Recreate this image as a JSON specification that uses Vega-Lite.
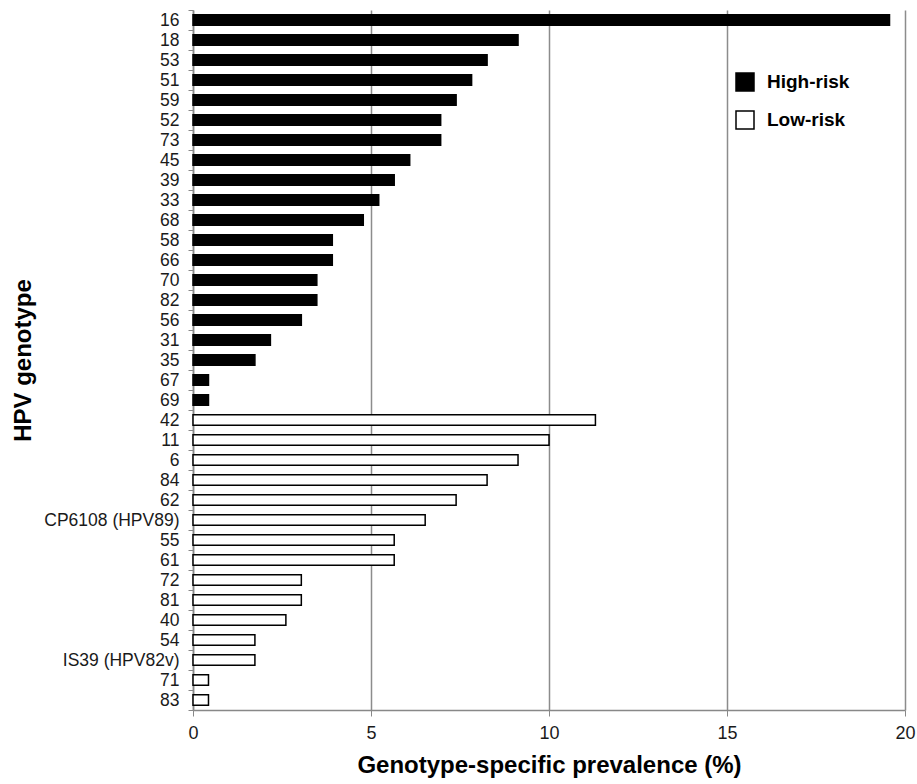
{
  "$schema": "https://vega.github.io/schema/vega-lite/v6.json",
  "autosize": {"type": "none"},
  "width": 712,
  "height": 700,
  "padding": {"left": 193, "top": 10, "right": 12, "bottom": 74},
  "background": "white",
  "config": {
    "view": {"stroke": null},
    "font": "Liberation Sans"
  },
  "data": {
    "values": [
      {"genotype": "16", "risk": "High-risk", "prevalence": 19.565},
      {"genotype": "18", "risk": "High-risk", "prevalence": 9.130},
      {"genotype": "53", "risk": "High-risk", "prevalence": 8.261},
      {"genotype": "51", "risk": "High-risk", "prevalence": 7.826},
      {"genotype": "59", "risk": "High-risk", "prevalence": 7.391},
      {"genotype": "52", "risk": "High-risk", "prevalence": 6.957},
      {"genotype": "73", "risk": "High-risk", "prevalence": 6.957},
      {"genotype": "45", "risk": "High-risk", "prevalence": 6.087},
      {"genotype": "39", "risk": "High-risk", "prevalence": 5.652},
      {"genotype": "33", "risk": "High-risk", "prevalence": 5.217},
      {"genotype": "68", "risk": "High-risk", "prevalence": 4.783},
      {"genotype": "58", "risk": "High-risk", "prevalence": 3.913},
      {"genotype": "66", "risk": "High-risk", "prevalence": 3.913},
      {"genotype": "70", "risk": "High-risk", "prevalence": 3.478},
      {"genotype": "82", "risk": "High-risk", "prevalence": 3.478},
      {"genotype": "56", "risk": "High-risk", "prevalence": 3.043},
      {"genotype": "31", "risk": "High-risk", "prevalence": 2.174},
      {"genotype": "35", "risk": "High-risk", "prevalence": 1.739},
      {"genotype": "67", "risk": "High-risk", "prevalence": 0.435},
      {"genotype": "69", "risk": "High-risk", "prevalence": 0.435},
      {"genotype": "42", "risk": "Low-risk", "prevalence": 11.304},
      {"genotype": "11", "risk": "Low-risk", "prevalence": 10.0},
      {"genotype": "6", "risk": "Low-risk", "prevalence": 9.130},
      {"genotype": "84", "risk": "Low-risk", "prevalence": 8.261},
      {"genotype": "62", "risk": "Low-risk", "prevalence": 7.391},
      {"genotype": "CP6108 (HPV89)", "risk": "Low-risk", "prevalence": 6.522},
      {"genotype": "55", "risk": "Low-risk", "prevalence": 5.652},
      {"genotype": "61", "risk": "Low-risk", "prevalence": 5.652},
      {"genotype": "72", "risk": "Low-risk", "prevalence": 3.043},
      {"genotype": "81", "risk": "Low-risk", "prevalence": 3.043},
      {"genotype": "40", "risk": "Low-risk", "prevalence": 2.609},
      {"genotype": "54", "risk": "Low-risk", "prevalence": 1.739},
      {"genotype": "IS39 (HPV82v)", "risk": "Low-risk", "prevalence": 1.739},
      {"genotype": "71", "risk": "Low-risk", "prevalence": 0.435},
      {"genotype": "83", "risk": "Low-risk", "prevalence": 0.435}
    ]
  },
  "mark": {
    "type": "bar",
    "height": {"band": 0.52},
    "stroke": "#000000",
    "strokeWidth": 1.5,
    "opacity": 1,
    "fillOpacity": 1
  },
  "encoding": {
    "y": {
      "field": "genotype",
      "type": "nominal",
      "sort": null,
      "scale": {"paddingInner": 0, "paddingOuter": 0},
      "axis": {
        "title": "HPV genotype",
        "titleFont": "Liberation Sans",
        "titleFontSize": 24,
        "titleFontWeight": "bold",
        "titleColor": "#000000",
        "titlePadding": 8,
        "labelFont": "Liberation Sans",
        "labelFontSize": 17.5,
        "labelColor": "#1a1a1a",
        "labelPadding": 9,
        "tickBand": "extent",
        "tickSize": 5,
        "tickColor": "#888888",
        "domainColor": "#888888",
        "domainWidth": 1.5,
        "grid": false
      }
    },
    "x": {
      "field": "prevalence",
      "type": "quantitative",
      "scale": {"domain": [0, 20], "nice": false},
      "axis": {
        "title": "Genotype-specific prevalence (%)",
        "titleFont": "Liberation Sans",
        "titleFontSize": 24,
        "titleFontWeight": "bold",
        "titleColor": "#000000",
        "titlePadding": 11,
        "values": [0, 5, 10, 15, 20],
        "labelFont": "Liberation Sans",
        "labelFontSize": 18,
        "labelColor": "#1a1a1a",
        "labelPadding": 8,
        "labelFlush": false,
        "tickSize": 6,
        "tickColor": "#888888",
        "domainColor": "#888888",
        "domainWidth": 1.5,
        "grid": true,
        "gridColor": "#8c8c8c",
        "gridWidth": 1.5,
        "gridOpacity": 1
      }
    },
    "fill": {
      "field": "risk",
      "type": "nominal",
      "scale": {"domain": ["High-risk", "Low-risk"], "range": ["#000000", "#ffffff"]},
      "legend": {
        "title": null,
        "orient": "none",
        "legendX": 542,
        "legendY": 62,
        "padding": 0,
        "symbolType": "square",
        "symbolSize": 324,
        "symbolStrokeColor": "#000000",
        "symbolStrokeWidth": 1.5,
        "symbolOpacity": 1,
        "labelFont": "Liberation Sans",
        "labelFontSize": 19,
        "labelFontWeight": "bold",
        "labelColor": "#000000",
        "labelOffset": 12,
        "rowPadding": 14
      }
    }
  }
}
